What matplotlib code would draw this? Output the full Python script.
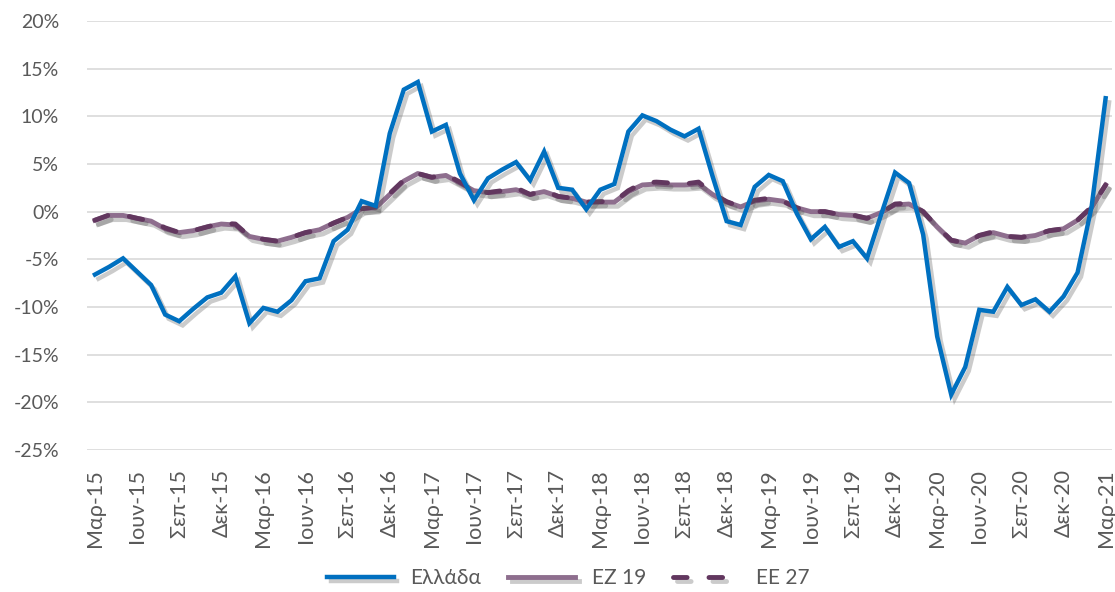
import matplotlib
matplotlib.use("Agg")
import matplotlib.pyplot as plt
import matplotlib.patheffects as pe
import numpy as np

plt.rcParams['font.family'] = ['Lato', 'DejaVu Sans']

# μηνιαία στοιχεία Μαρ-15 ... Μαρ-21 (73 μήνες), %
ellada = [-6.6, -5.8, -4.9, -6.3, -7.7, -10.8, -11.5, -10.2, -9.0, -8.5,
          -6.8, -11.7, -10.1, -10.5, -9.3, -7.3, -7.0, -3.1, -1.9, 1.1,
          0.6, 8.2, 12.8, 13.6, 8.4, 9.1, 4.0, 1.2, 3.5, 4.4,
          5.2, 3.3, 6.3, 2.5, 2.3, 0.25, 2.3, 2.9, 8.4, 10.1,
          9.5, 8.6, 7.9, 8.7, 3.7, -1.0, -1.4, 2.6, 3.85, 3.2,
          -0.2, -2.9, -1.6, -3.7, -3.1, -4.9, -0.35, 4.1, 3.0, -2.4,
          -13.1, -19.2, -16.3, -10.3, -10.5, -7.9, -9.8, -9.2, -10.5, -8.9,
          -6.4, 0.5, 11.9]

ez19 = [-0.9, -0.4, -0.4, -0.7, -1.0, -1.8, -2.2, -2.0, -1.6, -1.3,
        -1.4, -2.6, -2.9, -3.1, -2.7, -2.2, -1.9, -1.2, -0.6, 0.3,
        0.4, 1.8, 3.2, 4.0, 3.6, 3.8, 3.0, 2.2, 2.0, 2.1,
        2.3, 1.8, 2.1, 1.6, 1.4, 1.0, 1.0, 1.0, 2.1, 2.8,
        2.9, 2.8, 2.8, 2.9, 1.8, 1.0, 0.5, 1.1, 1.3, 1.1,
        0.4, 0.0, 0.0, -0.3, -0.4, -0.7, -0.1, 0.7, 0.8, 0.0,
        -1.6, -3.0, -3.3, -2.5, -2.2, -2.6, -2.7, -2.5, -2.0, -1.8,
        -0.9, 0.4, 2.8]

ee27 = [-0.9, -0.35, -0.35, -0.7, -1.0, -1.7, -2.2, -2.0, -1.6, -1.2,
        -1.3, -2.6, -2.9, -3.1, -2.7, -2.2, -1.9, -1.2, -0.6, 0.3,
        0.5, 1.9, 3.3, 4.0, 3.6, 3.9, 3.1, 2.2, 2.0, 2.2,
        2.5, 1.8, 2.2, 1.6, 1.4, 1.0, 1.05, 1.05, 2.2, 3.0,
        3.1, 3.0, 2.9, 3.1, 1.9, 1.05, 0.5, 1.2, 1.4, 1.1,
        0.4, 0.0, 0.0, -0.3, -0.35, -0.7, -0.1, 0.8, 0.9, 0.0,
        -1.6, -3.0, -3.3, -2.5, -2.1, -2.6, -2.7, -2.4, -2.0, -1.8,
        -0.9, 0.5, 2.8]

etiketes = ['Μαρ-15', 'Ιουν-15', 'Σεπ-15', 'Δεκ-15', 'Μαρ-16', 'Ιουν-16',
            'Σεπ-16', 'Δεκ-16', 'Μαρ-17', 'Ιουν-17', 'Σεπ-17', 'Δεκ-17',
            'Μαρ-18', 'Ιουν-18', 'Σεπ-18', 'Δεκ-18', 'Μαρ-19', 'Ιουν-19',
            'Σεπ-19', 'Δεκ-19', 'Μαρ-20', 'Ιουν-20', 'Σεπ-20', 'Δεκ-20',
            'Μαρ-21']

x = np.arange(len(ellada))
skia = [pe.SimpleLineShadow(offset=(2.5, -3), shadow_color='#555555', alpha=0.3), pe.Normal()]

fig = plt.figure(figsize=(11.15, 5.92), dpi=100)
ax = fig.add_axes([0.078, 0.24, 0.919, 0.7245])

ax.plot(x, ellada, color='#0070C0', lw=3.2, label='Ελλάδα', path_effects=skia,
        solid_joinstyle='miter', zorder=4)
ax.plot(x, ez19, color='#8E6E8E', lw=3.5, label='ΕΖ 19', path_effects=skia, zorder=3)
ax.plot(x, ee27, color='#62375F', lw=3.5, ls=(0, (2.8, 4.5)), dash_capstyle='round',
        label='ΕΕ 27', path_effects=skia, zorder=3)

ax.set_xlim(-0.57, 72.43)
ax.set_ylim(-25, 20)
ax.set_yticks(np.arange(-25, 21, 5))
ax.set_yticklabels([f'{v}%' for v in range(-25, 21, 5)])
ax.set_xticks(x[::3])
ax.set_xticklabels(etiketes, rotation=90)

ax.grid(True, axis='y', color='#D9D9D9', lw=1.2)
ax.set_axisbelow(True)
for s in ax.spines.values():
    s.set_visible(False)
ax.tick_params(axis='both', length=0, colors='#595959')
ax.tick_params(axis='y', pad=20, labelsize=14)
ax.tick_params(axis='x', pad=14, labelsize=15.5)

fig.legend(loc='lower center', ncol=3, frameon=False, fontsize=15,
           handlelength=3.2, columnspacing=1.3, bbox_to_anchor=(0.51, -0.025),
           labelcolor='#595959')

fig.savefig('out.png', dpi=100)
